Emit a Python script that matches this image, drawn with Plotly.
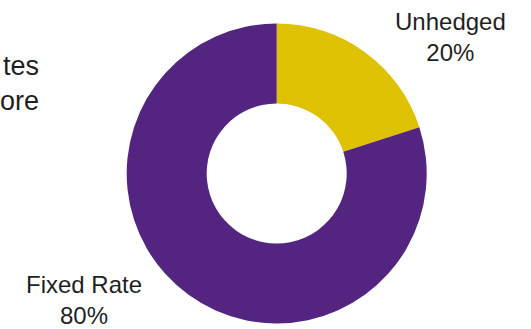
import plotly.graph_objects as go

labels = ["Unhedged", "Fixed Rate"]
values = [20, 80]
colors = ["#DEC100", "#532581"]
side_text = ["tes", "ore"]

W, H = 531, 329
cx, cy, R = 276.7, 173.5, 150
hole = 70 / 150

fig = go.Figure()
fig.add_trace(go.Pie(
    labels=labels, values=values, sort=False, direction="clockwise", rotation=0,
    hole=hole, textinfo="none", hoverinfo="label+percent",
    marker=dict(colors=colors, line=dict(width=0)),
    domain=dict(x=[(cx - R) / W, (cx + R) / W], y=[(H - cy - R) / H, (H - cy + R) / H]),
    showlegend=False,
))

total = sum(values)
label_pos = [(450, 37), (84, 300)]
font = dict(family="Liberation Sans, Arial, sans-serif", size=24, color="#1f1f1f")
for (lx, ly), lab, v in zip(label_pos, labels, values):
    fig.add_annotation(x=lx / W, y=1 - ly / H, xref="paper", yref="paper",
                       text=f"{lab}<br>{round(100 * v / total)}%", showarrow=False,
                       xanchor="center", yanchor="middle", align="center", font=font)

fig.add_annotation(x=41 / W, y=1 - 84 / H, xref="paper", yref="paper",
                   text="<br>".join(side_text), showarrow=False,
                   xanchor="right", yanchor="middle", align="right",
                   font=dict(family="Liberation Sans, Arial, sans-serif", size=27, color="#1f1f1f"))

fig.update_layout(width=W, height=H, margin=dict(l=0, r=0, t=0, b=0),
                  paper_bgcolor="white", plot_bgcolor="white")
fig.write_html("out.html")
